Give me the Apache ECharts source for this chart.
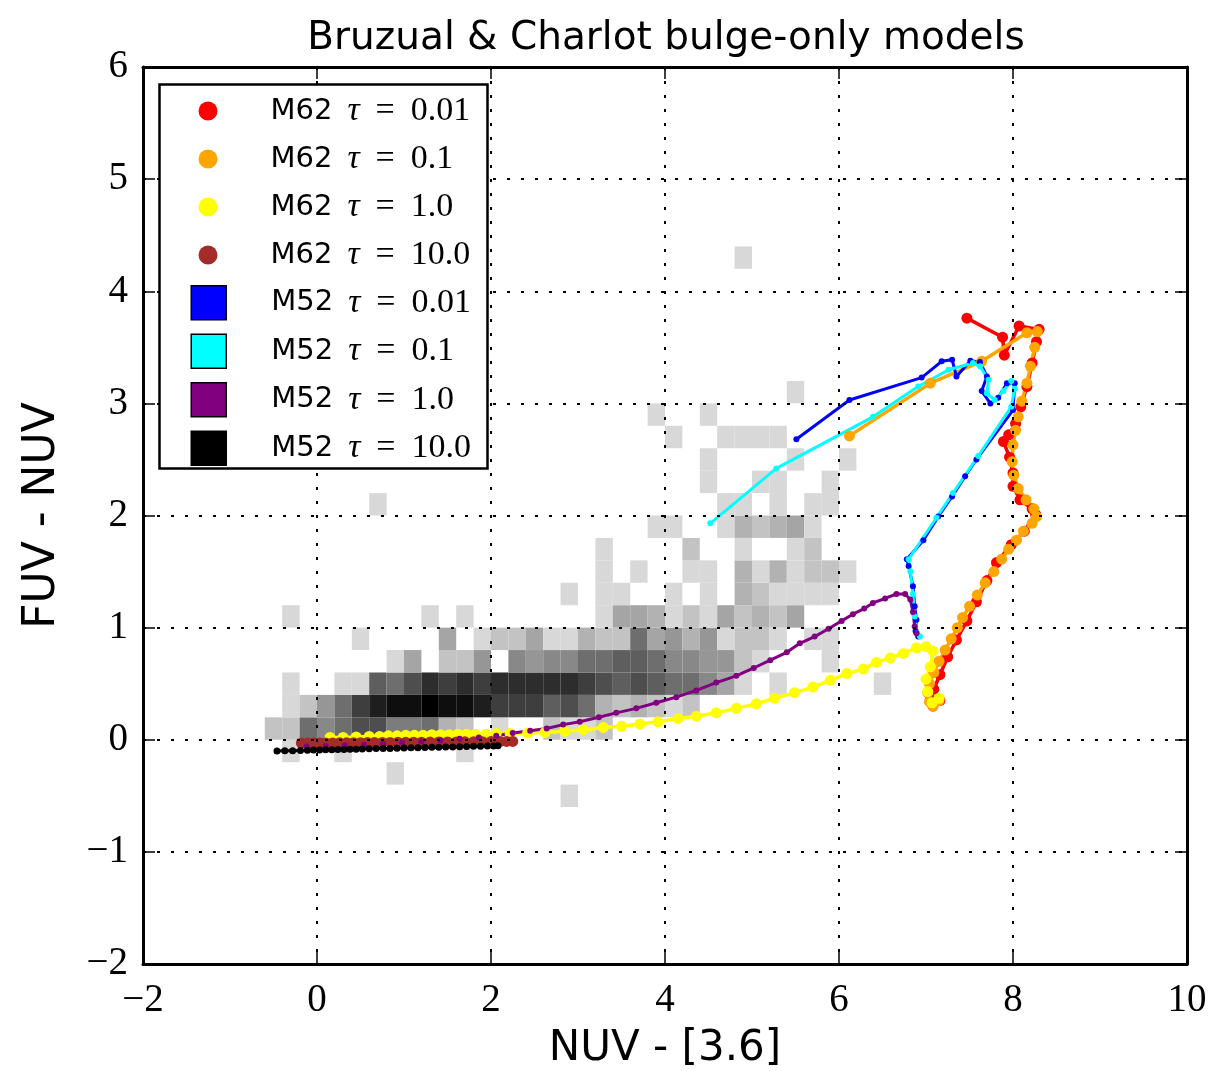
<!DOCTYPE html>
<html>
<head>
<meta charset="utf-8">
<script src="https://cdn.jsdelivr.net/npm/echarts@6/dist/echarts.min.js"></script>
<style>
  html, body { margin: 0; padding: 0; background: #ffffff; }
  #chart { width: 1213px; height: 1071px; }
</style>
</head>
<body>
<div id="chart"></div>
<script>
// ---------------------------------------------------------------
// Galaxy density in the (NUV - [3.6], FUV - NUV) plane, 0.2 x 0.2 mag bins.
// Rows run bottom to top starting at y = -0.6, columns left to right
// starting at x = -0.6. '.' = empty bin, 1..f = density level.
// ---------------------------------------------------------------
const binSize = 0.2;
const histX0 = -0.6;
const histY0 = -0.6;
const histRows = [
  '......|......|.....1|......|......|......', // -0.6
  '......|.1....|......|......|......|......', // -0.4
  '.1..1.|.....1|......|......|......|......', // -0.2
  '22868a|a77832|.1..21|12....|......|......', //  0.0
  '.1258b|deefee|dbbb9a|832321|2.....|......', //  0.2
  '.1..11|98acbc|bccccc|ba9a98|8641.1|.....1', //  0.4
  '......|.14.22|5.6566|889986|65521.|..1...', //  0.6
  '.....1|....4.|122411|322845|351221|.11...', //  0.8
  '.1....|...1.1|......|.14431|214232|4.....', //  1.0
  '......|......|.....1|.11..1|.1.321|111...', //  1.2
  '......|......|......|.1.1..|11.313|1221..', //  1.4
  '......|......|......|.1....|2..1..|12....', //  1.6
  '......|......|......|....11|..1323|41....', //  1.8
  '......|1.....|......|......|..11.1|.11...', //  2.0
  '......|......|......|......|.1..11|..1...', //  2.2
  '......|......|......|......|.1....|1..1..', //  2.4
  '......|......|......|.....1|..1111|......', //  2.6
  '......|......|......|....1.|.1....|......', //  2.8
  '......|......|......|......|......|1.....', //  3.0
  '......|......|......|......|......|......', //  3.2
  '......|......|......|......|......|......', //  3.4
  '......|......|......|......|......|......', //  3.6
  '......|......|......|......|......|......', //  3.8
  '......|......|......|......|......|......', //  4.0
  '......|......|......|......|...1..|......'  //  4.2
];
// grey value for each density level (0 = white)
const shadeLevels = [255, 216, 195, 178, 165, 150, 136, 124, 110, 94, 78, 62, 45, 30, 14, 0];

// ---------------------------------------------------------------
// Bruzual & Charlot bulge-only model tracks
// ---------------------------------------------------------------
// M62, tau = 0.01
const m62t001X = [7.47, 7.88, 7.90, 8.07, 8.30, 8.27, 8.22, 8.16, 8.09, 8.03, 7.95, 7.89, 7.96, 8.00, 8.00, 8.08, 8.22, 8.26, 8.13, 7.98, 7.81, 7.70, 7.58, 7.47, 7.35, 7.25, 7.16, 7.09, 7.05, 7.08, 7.16];
const m62t001Y = [3.76, 3.59, 3.43, 3.69, 3.66, 3.55, 3.36, 3.15, 2.97, 2.82, 2.72, 2.66, 2.52, 2.38, 2.26, 2.14, 2.06, 2.01, 1.86, 1.74, 1.58, 1.42, 1.23, 1.06, 0.89, 0.74, 0.58, 0.45, 0.36, 0.30, 0.35];
// M62, tau = 0.1
const m62t01X = [6.12, 7.05, 7.64, 8.16, 8.28, 8.25, 8.20, 8.16, 8.10, 8.06, 8.03, 8.00, 7.99, 8.01, 8.06, 8.15, 8.24, 8.27, 8.22, 8.12, 8.04, 7.95, 7.87, 7.78, 7.68, 7.59, 7.50, 7.42, 7.36, 7.29, 7.22, 7.15, 7.09, 7.04, 7.02, 7.04, 7.08, 7.15];
const m62t01Y = [2.71, 3.18, 3.375, 3.63, 3.64, 3.50, 3.33, 3.18, 3.02, 2.88, 2.76, 2.63, 2.48, 2.36, 2.24, 2.14, 2.06, 1.99, 1.93, 1.86, 1.78, 1.70, 1.61, 1.50, 1.40, 1.29, 1.19, 1.09, 1.00, 0.90, 0.80, 0.70, 0.60, 0.50, 0.42, 0.34, 0.30, 0.35];
// M62, tau = 1.0
const m62t1X = [0.15, 0.30, 0.45, 0.60, 0.72, 0.82, 0.92, 1.02, 1.12, 1.22, 1.32, 1.42, 1.52, 1.62, 1.72, 1.82, 1.94, 2.06, 2.22, 2.42, 2.62, 2.85, 3.06, 3.29, 3.50, 3.71, 3.92, 4.15, 4.36, 4.59, 4.82, 5.05, 5.26, 5.49, 5.70, 5.90, 6.09, 6.28, 6.43, 6.59, 6.74, 6.89, 7.00, 7.08, 7.05, 7.00, 7.02, 7.07, 7.15];
const m62t1Y = [0.02, 0.02, 0.025, 0.03, 0.03, 0.035, 0.035, 0.04, 0.04, 0.04, 0.045, 0.045, 0.045, 0.05, 0.05, 0.05, 0.05, 0.055, 0.055, 0.06, 0.065, 0.075, 0.09, 0.11, 0.12, 0.14, 0.16, 0.19, 0.21, 0.24, 0.28, 0.32, 0.37, 0.42, 0.47, 0.53, 0.59, 0.63, 0.69, 0.73, 0.77, 0.82, 0.83, 0.79, 0.65, 0.54, 0.43, 0.33, 0.37];
// M62, tau = 10.0
const m62t10X = [-0.18, -0.11, -0.04, 0.03, 0.10, 0.18, 0.26, 0.34, 0.42, 0.50, 0.58, 0.66, 0.75, 0.84, 0.93, 1.02, 1.11, 1.20, 1.30, 1.40, 1.50, 1.60, 1.70, 1.80, 1.90, 2.00, 2.10, 2.18, 2.25];
const m62t10Y = [-0.030, -0.030, -0.029, -0.029, -0.028, -0.028, -0.027, -0.027, -0.026, -0.026, -0.025, -0.025, -0.024, -0.024, -0.023, -0.023, -0.022, -0.022, -0.021, -0.020, -0.020, -0.019, -0.018, -0.018, -0.017, -0.016, -0.016, -0.015, -0.015];
// M52, tau = 0.01
const m52t001X = [5.51, 6.12, 6.95, 7.18, 7.30, 7.35, 7.51, 7.62, 7.70, 7.64, 7.74, 7.83, 7.93, 8.02, 8.00, 7.58, 7.45, 7.30, 7.14, 6.97, 6.78, 6.80, 6.85, 6.87, 6.89, 6.88, 6.91];
const m52t001Y = [2.68, 3.03, 3.23, 3.375, 3.39, 3.24, 3.38, 3.37, 3.24, 3.11, 3.00, 3.05, 3.18, 3.18, 2.94, 2.50, 2.35, 2.17, 1.99, 1.78, 1.61, 1.55, 1.37, 1.19, 1.07, 0.97, 0.92];
// M52, tau = 0.1
const m52t01X = [4.52, 5.28, 6.39, 6.91, 7.26, 7.54, 7.62, 7.72, 7.70, 7.79, 7.89, 7.98, 8.02, 7.98, 7.60, 7.31, 7.12, 6.80, 6.82, 6.85, 6.87, 6.90, 6.93];
const m52t01Y = [1.93, 2.42, 2.88, 3.15, 3.30, 3.36, 3.33, 3.21, 3.09, 3.03, 3.11, 3.20, 3.13, 2.97, 2.53, 2.20, 1.98, 1.61, 1.50, 1.30, 1.10, 0.95, 0.92];
// M52, tau = 1.0
const m52t1X = [-0.12, 0.10, 0.32, 0.54, 0.76, 0.98, 1.20, 1.42, 1.64, 1.86, 2.06, 2.25, 2.45, 2.64, 2.83, 3.02, 3.24, 3.44, 3.67, 3.90, 4.13, 4.36, 4.59, 4.82, 5.02, 5.21, 5.40, 5.55, 5.72, 5.88, 6.03, 6.16, 6.29, 6.39, 6.53, 6.66, 6.76, 6.82, 6.85, 6.87, 6.89];
const m52t1Y = [-0.06, -0.055, -0.05, -0.045, -0.035, -0.025, -0.015, -0.005, 0.01, 0.02, 0.035, 0.06, 0.08, 0.10, 0.135, 0.16, 0.20, 0.24, 0.28, 0.33, 0.38, 0.44, 0.51, 0.57, 0.64, 0.71, 0.78, 0.86, 0.92, 0.99, 1.06, 1.12, 1.17, 1.22, 1.26, 1.30, 1.30, 1.25, 1.14, 1.01, 0.95];
// M52, tau = 10.0
const m52t10X = [-0.46, -0.37, -0.28, -0.19, -0.11, -0.04, 0.03, 0.10, 0.17, 0.24, 0.31, 0.38, 0.45, 0.52, 0.60, 0.68, 0.76, 0.84, 0.92, 1.00, 1.08, 1.16, 1.24, 1.32, 1.40, 1.48, 1.56, 1.64, 1.72, 1.80, 1.88, 1.96, 2.03, 2.08];
const m52t10Y = [-0.100, -0.098, -0.097, -0.095, -0.094, -0.092, -0.091, -0.090, -0.089, -0.087, -0.086, -0.085, -0.084, -0.082, -0.081, -0.079, -0.078, -0.077, -0.075, -0.074, -0.072, -0.071, -0.069, -0.068, -0.066, -0.065, -0.064, -0.062, -0.061, -0.059, -0.058, -0.056, -0.055, -0.054];

// axis ranges and tick spacing
const xRange = [-2, 10];
const xStep = 2;
const yRange = [-2, 6];
const yStep = 1;

// ---------------------------------------------------------------
const SANS = '"DejaVu Sans", sans-serif';
const SERIF = '"Liberation Serif", "DejaVu Serif", serif';

const histCells = [];
histRows.forEach((row, j) => {
  const cells = row.replace(/\|/g, '');
  for (let i = 0; i < cells.length; i++) {
    const ch = cells[i];
    if (ch === '.') continue;
    histCells.push([histX0 + i * binSize, histY0 + j * binSize, parseInt(ch, 16)]);
  }
});

function zipXY(xs, ys) { return xs.map((x, k) => [x, ys[k]]); }

const tracks = [
  { name: 'M62 τ = 0.01', color: '#ff0000', x: m62t001X, y: m62t001Y, size: 11, width: 3.5 },
  { name: 'M62 τ = 0.1',  color: '#ffa500', x: m62t01X,  y: m62t01Y,  size: 11, width: 3.5 },
  { name: 'M62 τ = 1.0',  color: '#ffff00', x: m62t1X,   y: m62t1Y,   size: 11, width: 3.5 },
  { name: 'M62 τ = 10.0', color: '#a52a2a', x: m62t10X,  y: m62t10Y,  size: 11, width: 3.5 },
  { name: 'M52 τ = 0.01', color: '#0000ff', x: m52t001X, y: m52t001Y, size: 6,  width: 3 },
  { name: 'M52 τ = 0.1',  color: '#00ffff', x: m52t01X,  y: m52t01Y,  size: 6,  width: 3 },
  { name: 'M52 τ = 1.0',  color: '#800080', x: m52t1X,   y: m52t1Y,   size: 6,  width: 3 },
  { name: 'M52 τ = 10.0', color: '#000000', x: m52t10X,  y: m52t10Y,  size: 7,  width: 3 }
];

const minusFmt = v => String(v).replace('-', '\u2212');

function legendFormatter(name) {
  const parts = name.split(' τ = ');
  return '{sp| }{m|' + parts[0] + '}{t|τ}{e|=}{v|' + parts[1] + '}';
}
function legendRich(spacer) {
  return {
    sp: { width: spacer },
    m: { fontFamily: SANS, fontSize: 29, color: '#000' },
    t: { fontFamily: SERIF, fontStyle: 'italic', fontSize: 34, color: '#000', padding: [0, 0, 0, 15] },
    e: { fontFamily: SERIF, fontSize: 34, color: '#000', padding: [0, 0, 0, 16] },
    v: { fontFamily: SERIF, fontSize: 34, color: '#000', padding: [0, 0, 0, 16] }
  };
}

const axisCommon = {
  type: 'value',
  z: 3,
  axisLine: { show: true, onZero: false, lineStyle: { color: '#000', width: 3 } },
  axisTick: { show: true, inside: true, length: 12, lineStyle: { color: '#000', width: 1.5 } }
};
const gridDots = { show: true, lineStyle: { color: '#000', width: 2, type: [3, 11] } };

const option = {
  animation: false,
  backgroundColor: '#ffffff',
  title: {
    text: 'Bruzual & Charlot bulge-only models',
    left: 661,
    top: 14,
    textAlign: 'center',
    textStyle: { fontFamily: SANS, fontSize: 39, fontWeight: 'normal', color: '#000' }
  },
  grid: { left: 143, right: 26, top: 67, bottom: 107, containLabel: false, outerBoundsMode: 'none' },
  xAxis: [
    Object.assign({}, axisCommon, {
      position: 'bottom', min: xRange[0], max: xRange[1], interval: xStep,
      splitLine: gridDots,
      axisLabel: { show: true, margin: 17, formatter: minusFmt, fontFamily: SERIF, fontSize: 39, color: '#000' },
      name: 'NUV - [3.6]', nameLocation: 'middle', nameGap: 64,
      nameTextStyle: { fontFamily: SANS, fontSize: 42, color: '#000' }
    }),
    Object.assign({}, axisCommon, {
      position: 'top', min: xRange[0], max: xRange[1], interval: xStep,
      splitLine: { show: false }, axisLabel: { show: false }
    })
  ],
  yAxis: [
    Object.assign({}, axisCommon, {
      position: 'left', min: yRange[0], max: yRange[1], interval: yStep,
      splitLine: gridDots,
      axisLabel: { show: true, margin: 15, formatter: minusFmt, fontFamily: SERIF, fontSize: 39, color: '#000' },
      name: 'FUV - NUV', nameLocation: 'middle', nameGap: 78,
      nameTextStyle: { fontFamily: SANS, fontSize: 44, color: '#000' }
    }),
    Object.assign({}, axisCommon, {
      position: 'right', min: yRange[0], max: yRange[1], interval: yStep,
      splitLine: { show: false }, axisLabel: { show: false }
    })
  ],
  legend: [
    {
      z: 6, selectedMode: false, orient: 'vertical', left: 198.5, top: 94,
      itemWidth: 19, itemHeight: 19, itemGap: 14, padding: 0,
      data: tracks.slice(0, 4).map(t => ({ name: t.name, icon: 'circle', itemStyle: { color: t.color, borderWidth: 0 } })),
      formatter: legendFormatter,
      textStyle: { rich: legendRich(48) }
    },
    {
      z: 6, selectedMode: false, orient: 'vertical', left: 190.5, top: 285,
      itemWidth: 35, itemHeight: 34, itemGap: 13, padding: 0,
      data: tracks.slice(4).map(t => ({ name: t.name, icon: 'rect', itemStyle: { color: t.color, borderColor: '#000', borderWidth: 1.5 } })),
      formatter: legendFormatter,
      textStyle: { rich: legendRich(40) }
    }
  ],
  graphic: [
    {
      type: 'rect', z: 5, silent: true,
      shape: { x: 159.5, y: 84.5, width: 328, height: 384 },
      style: { fill: '#ffffff', stroke: '#000', lineWidth: 2.5 }
    }
  ],
  series: [
    {
      type: 'custom',
      name: 'density',
      z: 1,
      silent: true,
      xAxisIndex: 0, yAxisIndex: 0,
      dimensions: ['x', 'y', 'level'],
      encode: { x: 0, y: 1 },
      data: histCells,
      renderItem: function (params, api) {
        const x0 = api.value(0), y0 = api.value(1), lvl = api.value(2);
        const p1 = api.coord([x0, y0 + binSize]);
        const p2 = api.coord([x0 + binSize, y0]);
        const g = shadeLevels[lvl];
        return {
          type: 'rect',
          shape: { x: p1[0], y: p1[1], width: p2[0] - p1[0], height: p2[1] - p1[1] },
          style: { fill: 'rgb(' + g + ',' + g + ',' + g + ')' }
        };
      }
    }
  ].concat(tracks.map(t => ({
    type: 'line',
    name: t.name,
    z: 2,
    xAxisIndex: 0, yAxisIndex: 0,
    data: zipXY(t.x, t.y),
    showSymbol: true,
    showAllSymbol: true,
    symbol: 'circle',
    symbolSize: t.size,
    silent: true,
    lineStyle: { color: t.color, width: t.width },
    itemStyle: { color: t.color, borderWidth: 0 },
    emphasis: { disabled: true }
  })))
};

const chart = echarts.init(document.getElementById('chart'), null, { renderer: 'canvas' });
chart.setOption(option);
</script>
</body>
</html>
